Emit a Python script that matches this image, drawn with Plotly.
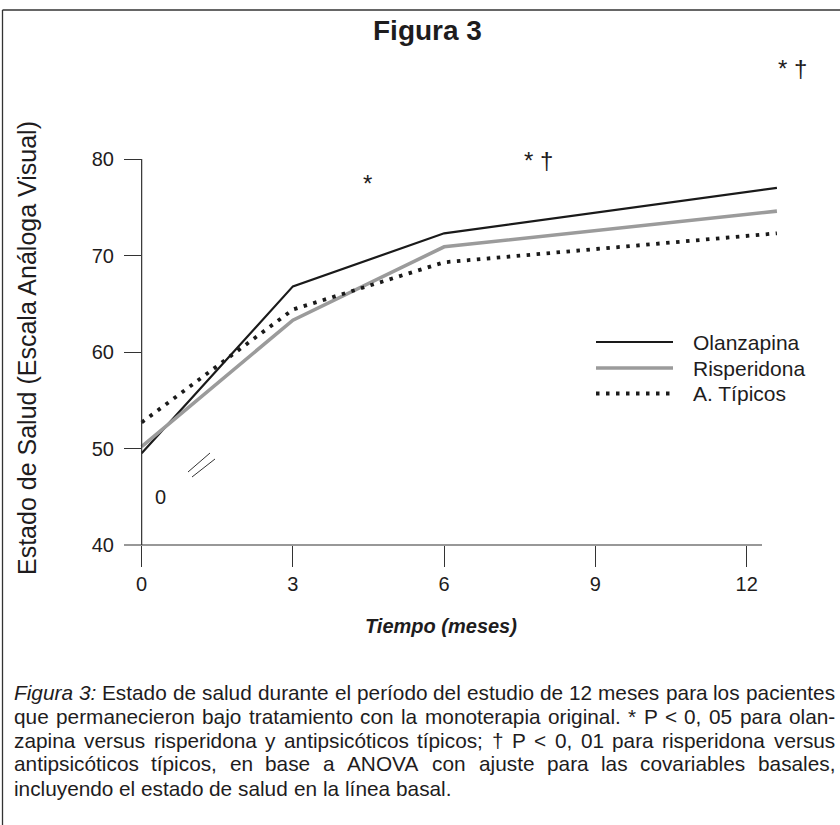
import plotly.graph_objects as go

# ---- data ----
months = [0, 3, 6, 12.6]          # last point is drawn just past the 12 tick in the original
olanzapina = [49.5, 66.8, 72.3, 77.0]
risperidona = [50.2, 63.3, 70.9, 74.6]
tipicos = [52.7, 64.4, 69.3, 72.3]
x_ticks = [0, 3, 6, 9, 12]
y_ticks = [40, 50, 60, 70, 80]
series_names = ["Olanzapina", "Risperidona", "A. Típicos"]

caption_lines = [
    "Figura 3: Estado de salud durante el período del estudio de 12 meses para los pacientes",
    "que permanecieron bajo tratamiento con la monoterapia original. * P < 0, 05 para olan-",
    "zapina versus risperidona y antipsicóticos típicos; † P < 0, 01 para risperidona versus",
    "antipsicóticos típicos, en base a ANOVA con ajuste para las covariables basales,",
    "incluyendo el estado de salud en la línea basal.",
]

# ---- layout geometry (pixels) ----
W, H = 840, 825
ML, MR, MT, MB = 124, 53, 120, 280
PW = W - ML - MR
PH = H - MT - MB

def px(x):
    return (x - ML) / PW

def py(y):
    return (H - MB - y) / PH

FONT = "Liberation Sans, Arial, sans-serif"
INK = "#1e1c1d"

fig = go.Figure()
styles = [
    dict(color="#1a1a1a", width=2.2),
    dict(color="#9b9b9b", width=3.6),
    dict(color="#1a1a1a", width=3.8, dash="3.5px,6.5px"),
]
for name, vals, st in zip(series_names, [olanzapina, risperidona, tipicos], styles):
    fig.add_trace(go.Scatter(x=months, y=vals, mode="lines", name=name,
                             line=st, showlegend=False, hoverinfo="skip"))

shapes = []
shapes.append(dict(type="line", xref="x", yref="y", x0=0, x1=0, y0=40, y1=80,
                   line=dict(color="#333", width=1.2)))
shapes.append(dict(type="line", xref="paper", yref="paper", x0=px(124), x1=px(762),
                   y0=0, y1=0, line=dict(color="#333", width=1.2)))
shapes.append(dict(type="line", xref="paper", yref="paper", x0=px(188), y0=py(472),
                   x1=px(210), y1=py(453), line=dict(color="#333", width=1)))
shapes.append(dict(type="line", xref="paper", yref="paper", x0=px(192), y0=py(477),
                   x1=px(215), y1=py(459), line=dict(color="#333", width=1)))
shapes.append(dict(type="line", xref="paper", yref="paper", x0=px(2.5), x1=px(840),
                   y0=py(10), y1=py(10), line=dict(color="#333", width=1.3)))
shapes.append(dict(type="line", xref="paper", yref="paper", x0=px(2.5), x1=px(2.5),
                   y0=py(10), y1=py(825), line=dict(color="#333", width=1.3)))

annotations = []
leg_y = [342, 368, 393.5]
for name, st, yy in zip(series_names, styles, leg_y):
    shapes.append(dict(type="line", xref="paper", yref="paper", x0=px(596), x1=px(673),
                       y0=py(yy), y1=py(yy), line=st))
    annotations.append(dict(xref="paper", yref="paper", x=px(691), y=py(yy), text=name,
                            showarrow=False, xanchor="left", yanchor="middle",
                            font=dict(size=21, color=INK, family=FONT)))

def note(text, x, y, size=18, **kw):
    d = dict(xref="paper", yref="paper", x=px(x), y=py(y), text=text, showarrow=False,
             xanchor="center", yanchor="middle", font=dict(size=size, color=INK, family=FONT))
    d.update(kw)
    annotations.append(d)

note("<b>Figura 3</b>", 427, 30, size=28)
note("* †", 792, 68, size=24)
note("*", 367, 183, size=24)
note("* †", 538, 160, size=24)
note("0", 160, 497, size=20)
note("<b><i>Tiempo (meses)</i></b>", 441, 626, size=20)
note("Estado de Salud (Escala Análoga Visual)", 27, 348, size=25, textangle=-90)

# ---- caption, justified word by word using Arial advance widths ----
AW = {' ': 278, 'a': 556, 'b': 556, 'c': 500, 'd': 556, 'e': 556, 'f': 278, 'g': 556,
      'h': 556, 'i': 222, 'j': 222, 'k': 500, 'l': 222, 'm': 833, 'n': 556, 'o': 556,
      'p': 556, 'q': 556, 'r': 333, 's': 500, 't': 278, 'u': 556, 'v': 500, 'w': 722,
      'x': 500, 'y': 500, 'z': 500, 'A': 667, 'E': 667, 'F': 611, 'N': 722, 'O': 778,
      'P': 667, 'V': 667, '.': 278, ',': 278, ':': 278, ';': 278, '*': 389, '<': 584,
      '-': 333, '†': 556, 'í': 278, 'ó': 556, 'á': 556, 'é': 556}
CAP_SIZE = 20.8
X0, X1 = 12, 833

def wwidth(word):
    return sum(AW.get(c, 556) for c in word) / 1000 * CAP_SIZE

def esc(w):
    return w.replace("<", "&lt;")

for i, line in enumerate(caption_lines):
    y = 692 + 24 * i
    words = line.split(" ")
    texts = [esc(w) for w in words]
    if line.startswith("Figura 3:"):
        texts[0] = "<i>Figura</i>"
        texts[1] = "<i>3:</i>"
    if i == len(caption_lines) - 1:
        gap = AW[' '] / 1000 * CAP_SIZE
    else:
        total = sum(wwidth(w) for w in words)
        gap = (X1 - X0 - total) / (len(words) - 1)
    x = X0
    for w, t in zip(words, texts):
        note(t, x, y, size=CAP_SIZE, xanchor="left")
        x += wwidth(w) + gap

fig.update_layout(
    width=W, height=H,
    margin=dict(l=ML, r=MR, t=MT, b=MB),
    plot_bgcolor="white", paper_bgcolor="white",
    shapes=shapes, annotations=annotations,
    showlegend=False,
    font=dict(family=FONT, color=INK),
    xaxis=dict(range=[-0.35, 12.8], tickvals=x_ticks, ticks="outside", ticklen=21,
               tickwidth=1.2, tickcolor="#333", showline=False, showgrid=False,
               zeroline=False, tickfont=dict(size=20, color=INK, family=FONT)),
    yaxis=dict(range=[40, 40 + PH / 9.65], tickvals=y_ticks, ticks="inside", ticklen=17,
               tickwidth=1.2, tickcolor="#333", showline=False, showgrid=False,
               zeroline=False, ticklabelstandoff=9,
               tickfont=dict(size=20, color=INK, family=FONT)),
)

fig.write_html("out.html", config={"displayModeBar": False},
               post_script="document.body.style.margin='0';")
